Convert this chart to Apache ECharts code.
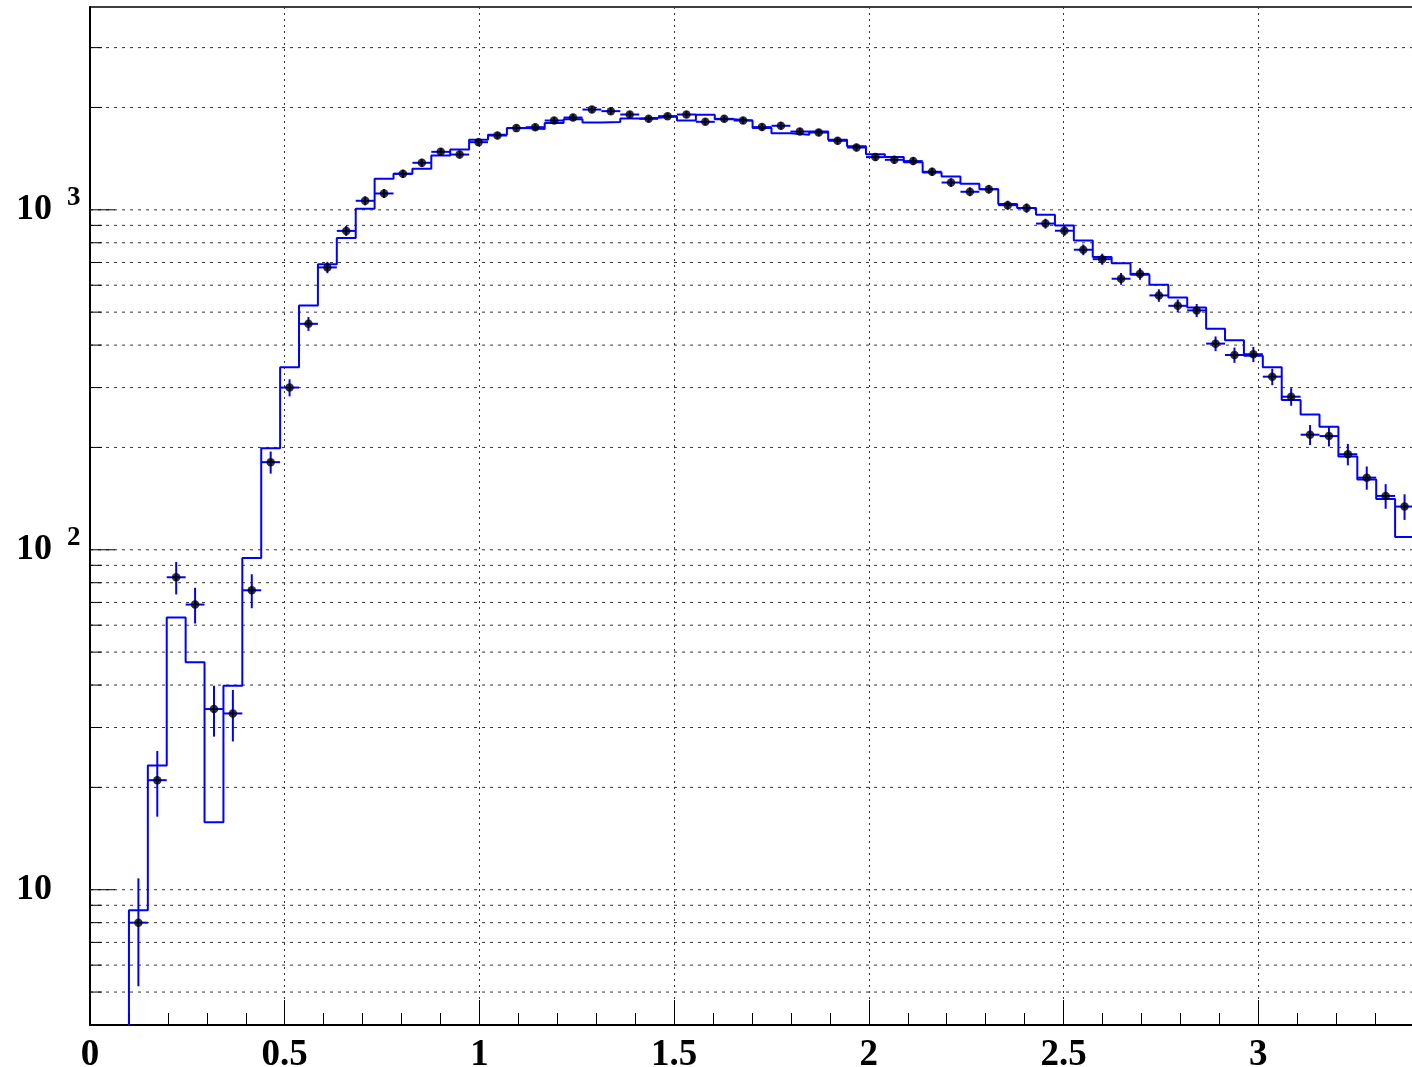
<!DOCTYPE html>
<html><head><meta charset="utf-8">
<script src="https://cdn.jsdelivr.net/npm/echarts@6/dist/echarts.min.js"></script>
<style>html,body{margin:0;padding:0;background:#fff;}#main{width:1412px;height:1067px;}</style>
</head><body><div id="main"></div>
<script>
// Histogram definition (68 bins from 0.1 to 3.4)
const binLow = 0.1;
const binHigh = 3.4;
const nBins = 68;

// Blue histogram (simulation) contents per bin
const mcCounts = [8.7, 23.2, 63.2, 46.7, 15.8, 39.8, 94.5, 199, 344, 523,
  692, 826, 1007, 1234, 1276, 1320, 1444, 1504, 1607, 1662,
  1739, 1730, 1799, 1848, 1806, 1814, 1856, 1867, 1880, 1831,
  1903, 1848, 1831, 1739, 1681, 1662, 1699, 1607, 1539, 1456,
  1429, 1381, 1287, 1253, 1193, 1150, 1041, 1012, 967, 899,
  812, 726, 696, 644, 602, 552, 516, 447, 413, 372,
  344, 276, 250, 230, 188, 161, 141, 109];

// Black points (data) per bin
const dataCounts = [8, 21, 83, 69, 34, 33, 76, 181, 300, 462,
  677, 867, 1063, 1117, 1276, 1375, 1481, 1454, 1581, 1654,
  1739, 1750, 1831, 1868, 1972, 1951, 1907, 1852, 1886, 1907,
  1815, 1852, 1831, 1751, 1767, 1699, 1688, 1596, 1525, 1429,
  1403, 1391, 1294, 1203, 1130, 1150, 1032, 1012, 911, 868,
  763, 716, 627, 648, 560, 522, 506, 404, 374, 376,
  323, 282, 218, 216, 191, 163, 144, 134];

// Vertical error of each data point
const dataErrors = [2.8, 4.6, 9.1, 8.3, 5.8, 5.7, 8.7, 13.5, 17.3, 21.5,
  26.0, 29.4, 32.6, 33.4, 35.7, 37.1, 38.5, 38.1, 39.8, 40.7,
  41.7, 41.8, 42.8, 43.2, 44.4, 44.2, 43.7, 43.0, 43.4, 43.7,
  42.6, 43.0, 42.8, 41.8, 42.0, 41.2, 41.1, 40.0, 39.1, 37.8,
  37.5, 37.3, 36.0, 34.7, 33.6, 33.9, 32.1, 31.8, 30.2, 29.5,
  27.6, 26.8, 25.0, 25.5, 23.7, 22.8, 22.5, 20.1, 19.3, 19.4,
  18.0, 16.8, 14.8, 14.7, 13.8, 12.8, 12.0, 11.6];

// Axis ranges / ticks
const xRange = [0, 3.4];
const yRange = [4, 3950];
const xTickLabels = ['0', '0.5', '1', '1.5', '2', '2.5', '3'];
const yGridValues = [5, 6, 7, 8, 9, 10, 20, 30, 40, 50, 60, 70, 80, 90,
  100, 200, 300, 400, 500, 600, 700, 800, 900, 1000, 2000, 3000];

// ---- build library inputs ----
const binW = (binHigh - binLow) / nBins;
const edges = [];
for (let i = 0; i <= nBins; i++) edges.push(binLow + i * binW);
const histLine = [[edges[0], 1]];
mcCounts.forEach((v, i) => { histLine.push([edges[i], v]); histLine.push([edges[i + 1], v]); });
const pts = dataCounts.map((v, i) => [(edges[i] + edges[i + 1]) / 2, v, dataErrors[i], binW / 2]);

const serif = '"Liberation Serif","Times New Roman",serif';
const chart = echarts.init(document.getElementById('main'), null, {renderer: 'canvas'});
const option = {
  animation: false,
  backgroundColor: '#fff',
  grid: {left: 90, top: 7, width: 1324, height: 1018, show: true, borderColor: '#000', borderWidth: 1.5,
    containLabel: false, outerBoundsMode: 'none'},
  xAxis: [{
    type: 'value', min: xRange[0], max: xRange[1], interval: 0.5,
    axisLine: {show: true, lineStyle: {color: '#000', width: 2}},
    axisTick: {show: true, inside: true, length: 25, lineStyle: {color: '#000', width: 1}},
    splitLine: {show: true, lineStyle: {color: '#333', width: 1, type: [2, 4]}},
    axisLabel: {
      show: true, margin: 12, color: '#000', fontFamily: serif, fontWeight: 'bold', fontSize: 37,
      showMaxLabel: false, hideOverlap: false,
      formatter: v => { const k = Math.round(v * 2); return Math.abs(v * 2 - k) < 1e-6 && k < xTickLabels.length ? xTickLabels[k] : ''; }
    }
  }, {
    type: 'value', min: xRange[0], max: xRange[1], interval: 0.1, position: 'bottom', offset: 0,
    axisLine: {show: false}, axisLabel: {show: false}, splitLine: {show: false},
    axisTick: {show: true, inside: true, length: 12, lineStyle: {color: '#000', width: 1}}
  }],
  yAxis: {
    type: 'log', min: yRange[0], max: yRange[1], logBase: 10,
    axisLine: {show: true, lineStyle: {color: '#000', width: 2}},
    axisTick: {show: false},
    splitLine: {show: false},
    axisLabel: {
      show: true, align: 'left', margin: 74, color: '#000',
      showMinLabel: false, showMaxLabel: false,
      formatter: v => {
        const lg = Math.log10(v), k = Math.round(lg);
        if (Math.abs(lg - k) > 1e-6) return '';
        return k === 1 ? '{b|10}' : '{b|10}{s|' + k + '}';
      },
      rich: {
        b: {fontFamily: serif, fontWeight: 'bold', fontSize: 36, color: '#000', lineHeight: 50},
        s: {fontFamily: serif, fontWeight: 'bold', fontSize: 27, color: '#000', verticalAlign: 'top', padding: [0, 0, 0, 15]}
      }
    }
  },
  series: [
    {
      type: 'custom', name: 'ygrid', z: 1, silent: true,
      data: yGridValues.map(v => [xRange[0], v]),
      encode: {x: 0, y: 1},
      renderItem: (params, api) => {
        const v = api.value(1);
        const p0 = api.coord([xRange[0], v]);
        const p1 = api.coord([xRange[1], v]);
        const lg = Math.log10(v);
        const major = Math.abs(lg - Math.round(lg)) < 1e-6;
        const tl = major ? 25 : 12;
        return {type: 'group', children: [
          {type: 'line', shape: {x1: p0[0], y1: p0[1], x2: p1[0], y2: p1[1]}, style: {stroke: '#333', lineWidth: 1, lineDash: [3, 5]}},
          {type: 'line', shape: {x1: p0[0], y1: p0[1], x2: p0[0] + tl, y2: p0[1]}, style: {stroke: '#000', lineWidth: 1}}
        ]};
      }
    },
    {
      type: 'line', name: 'MC', data: histLine, showSymbol: false, symbol: 'none', clip: true, z: 2,
      lineStyle: {color: '#0000ff', width: 2}, itemStyle: {color: '#0000ff'}
    },
    {
      type: 'custom', name: 'errors', z: 3, clip: true,
      data: pts, encode: {x: 0, y: 1},
      renderItem: (params, api) => {
        const x = api.value(0), y = api.value(1), e = api.value(2), hw = api.value(3);
        const pl = api.coord([x - hw, y]), pr = api.coord([x + hw, y]);
        const pt = api.coord([x, y + e]), pb = api.coord([x, Math.max(y - e, 0.5)]);
        return {type: 'group', children: [
          {type: 'line', shape: {x1: pl[0], y1: pl[1], x2: pr[0], y2: pr[1]}, style: {stroke: '#0000ff', lineWidth: 2}},
          {type: 'line', shape: {x1: pt[0], y1: pt[1], x2: pb[0], y2: pb[1]}, style: {stroke: '#0000ff', lineWidth: 2}}
        ]};
      }
    },
    {
      type: 'scatter', name: 'Data', data: pts.map(p => [p[0], p[1]]), symbol: 'circle', symbolSize: 8.5, z: 4,
      itemStyle: {color: '#000'}
    }
  ]
};
chart.setOption(option);
</script></body></html>
